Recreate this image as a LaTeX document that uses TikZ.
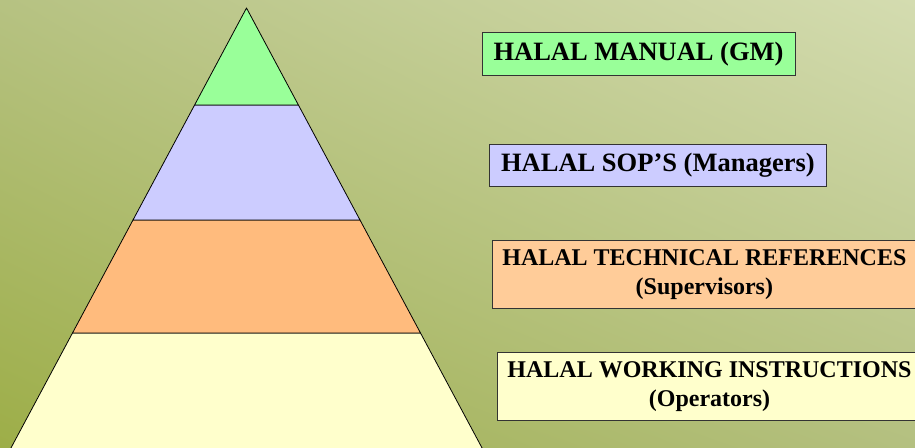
\documentclass[tikz,border=0pt]{standalone}
\usepackage{fontspec}
\setmainfont{Liberation Serif}
\usetikzlibrary{positioning,shadings}
\definecolor{bgLL}{HTML}{9DAE48}
\definecolor{bgUL}{HTML}{B6C282}
\definecolor{bgUR}{HTML}{D4DCB0}
\definecolor{bgLR}{HTML}{B4C080}
\definecolor{topF}{HTML}{99FF99}
\definecolor{sopF}{HTML}{CCCCFF}
\definecolor{refF}{HTML}{FFBB7D}
\definecolor{refB}{HTML}{FFCC99}
\definecolor{workF}{HTML}{FFFFCC}
\definecolor{edgeC}{HTML}{333333}
\tikzset{
  layer/.style={draw=black, line width=0.8pt, line join=round},
  box/.style={draw=edgeC, line width=0.8pt, align=center, inner sep=0pt, font=\bfseries},
  bigbox/.style={box, font=\fontsize{26.5}{30}\selectfont\bfseries},
  twobox/.style={box, font=\fontsize{24}{29}\selectfont\bfseries},
}
\begin{document}
\begin{tikzpicture}[x=1pt, y=1pt]
\useasboundingbox (0,0) rectangle (915,447);
\clip (0,0) rectangle (915,447);
\shade[lower left=bgLL, upper left=bgUL, upper right=bgUR, lower right=bgLR] (0,0) rectangle (915,447);
% pyramid
\coordinate (apex) at (246.5,439);
\coordinate (l1) at (194.6,342); \coordinate (r1) at (298.4,342);
\coordinate (l2) at (133,227);   \coordinate (r2) at (360,227);
\coordinate (l3) at (72.5,114);  \coordinate (r3) at (420.5,114);
\coordinate (l4) at (8.8,-5);    \coordinate (r4) at (484.2,-5);
\filldraw[layer, fill=workF] (l3) -- (r3) -- (r4) -- (l4) -- cycle;
\filldraw[layer, fill=refF] (l2) -- (r2) -- (r3) -- (l3) -- cycle;
\filldraw[layer, fill=sopF] (l1) -- (r1) -- (r2) -- (l2) -- cycle;
\filldraw[layer, fill=topF] (apex) -- (r1) -- (l1) -- cycle;
% labels
\node[bigbox, fill=topF, minimum width=313, minimum height=42.7] (manual) at (638.5,393.3) {HALAL MANUAL (GM)};
\node[bigbox, fill=sopF, minimum width=336.3, minimum height=42.4] (sops) at (657.9,281.5) {HALAL SOP’S (Managers)};
\node[twobox, fill=refB, minimum width=423.3, minimum height=68] (refs) at (704.4,172.7) {HALAL TECHNICAL REFERENCES\\(Supervisors)};
\node[twobox, fill=workF, minimum width=424.4, minimum height=68.4] (instr) at (709.5,60.5) {HALAL WORKING INSTRUCTIONS\\(Operators)};
\end{tikzpicture}
\end{document}
